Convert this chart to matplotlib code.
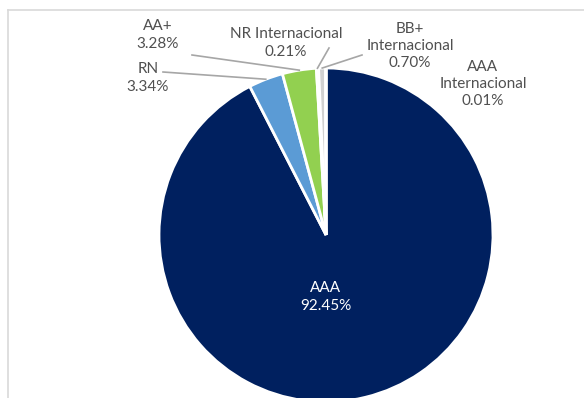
import numpy as np
import matplotlib

matplotlib.use("Agg")
import matplotlib.pyplot as plt

labels = ["AAA", "RN", "AA+", "NR Internacional", "BB+\nInternacional", "AAA\nInternacional"]
shares = [92.45, 3.34, 3.28, 0.21, 0.70, 0.01]
colors = ["#00205F", "#5B9BD5", "#92D050", "#F2F2F2", "#D0D0D0", "#A5A5A5"]

# label anchor (text centre) per slice, in the pixel frame of the canvas
label_xy = [None, (148, 78), (158, 35), (286, 43), (410, 46), (483, 84)]
# where the leader line leaves the label (None = no leader)
leader_from = [None, (163, 72), (192, 55), (329, 48), (362, 55), None]

W, H = 584, 398
CX, CY, R = 326, 235, 167

plt.rcParams["font.family"] = ["Lato", "DejaVu Sans"]

fig = plt.figure(figsize=(W / 100, H / 100), dpi=100)
ax = fig.add_axes([0, 0, 1, 1])

wedges, _ = ax.pie(
    shares, colors=colors, startangle=90, counterclock=False,
    center=(CX, H - CY), radius=R,
    wedgeprops=dict(edgecolor="white", linewidth=2),
)
ax.set_xlim(0, W)
ax.set_ylim(0, H)
ax.set_aspect("equal")
ax.axis("off")

# chart frame (only the top and left edges fall inside the canvas)
ax.plot([8, W], [H - 10, H - 10], color="#D9D9D9", lw=1.2, clip_on=False)
ax.plot([8, 8], [H - 10, 0], color="#D9D9D9", lw=1.2, clip_on=False)

txt = dict(fontsize=11, color="#505050", ha="center", va="center", linespacing=1.3)
for i, (lab, val, w) in enumerate(zip(labels, shares, wedges)):
    text = f"{lab}\n{val:.2f}%"
    if i == 0:
        ax.text(CX, H - 297, text, **{**txt, "color": "white"})
        continue
    lx, ly = label_xy[i]
    ax.text(lx, H - ly, text, **txt)
    if leader_from[i] is not None:
        mid = np.deg2rad((w.theta1 + w.theta2) / 2)
        ex = CX + R * np.cos(mid)
        ey = (H - CY) + R * np.sin(mid)
        fx, fy = leader_from[i]
        ax.plot([fx, ex], [H - fy, ey], color="#A6A6A6", lw=1.2)

fig.savefig("out.png", dpi=100)
